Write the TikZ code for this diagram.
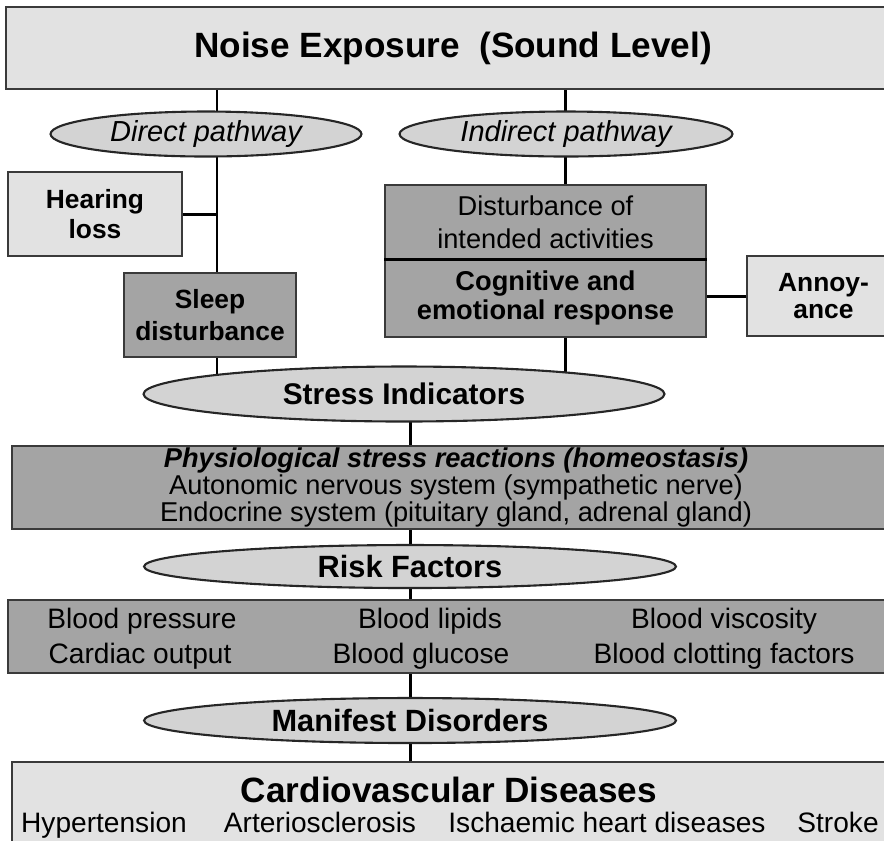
\documentclass[tikz,border=0pt]{standalone}
\usepackage{fontspec}
\setmainfont{Liberation Sans}
\usetikzlibrary{shapes.geometric,backgrounds}
\definecolor{lightbox}{HTML}{E2E2E2}
\definecolor{darkbox}{HTML}{A4A4A4}
\definecolor{ovalfill}{HTML}{D3D3D3}
\definecolor{rim}{HTML}{3A3A3A}
\newcommand{\setfs}[2]{\fontsize{#1}{#2}\selectfont}

\begin{document}
\begin{tikzpicture}[x=0.02cm, y=-0.02cm,
    box/.style={rectangle, draw=rim, line width=0.8pt, inner sep=0pt, align=center},
    light/.style={box, fill=lightbox},
    dark/.style={box, fill=darkbox},
    oval/.style={ellipse, draw=black!85, line width=1.2pt, fill=ovalfill, inner sep=0pt},
    item/.style={anchor=base, inner sep=0pt},
    link/.style={line width=1.7pt}]
  \useasboundingbox (0,0) rectangle (884,840);
  % exposure and the two pathways
  \node[light, minimum width=17.88cm, minimum height=1.64cm, font=\bfseries\setfs{20}{24}] (noise) at (453,48) {Noise Exposure~ (Sound Level)};
  \node[oval, minimum width=6.22cm, minimum height=0.9cm, font=\itshape\setfs{16.5}{20}] (direct) at (206,134) {Direct pathway};
  \node[oval, minimum width=6.66cm, minimum height=0.9cm, font=\itshape\setfs{16.5}{20}] (indirect) at (566,134) {Indirect pathway};
  % direct side
  \node[light, minimum width=3.48cm, minimum height=1.68cm, font=\bfseries\setfs{15}{17}] (hear) at (95,214) {Hearing\\loss};
  \node[dark, minimum width=3.44cm, minimum height=1.68cm, font=\bfseries\setfs{15}{18}] (sleep) at (210,315) {Sleep\\disturbance};
  % indirect side
  \node[dark, minimum width=6.42cm, minimum height=1.48cm, font=\setfs{15.5}{18.5}] (dist) at (545.5,222) {Disturbance of\\intended activities};
  \node[dark, minimum width=6.42cm, minimum height=1.56cm, font=\bfseries\setfs{15.5}{17}] (cogn) at (545.5,298) {Cognitive and\\emotional response};
  \node[light, minimum width=3.06cm, minimum height=1.6cm, font=\bfseries\setfs{15}{15.5}] (annoy) at (823.5,296) {Annoy-\\ance};
  % stress
  \node[oval, minimum width=10.42cm, minimum height=1.1cm, font=\bfseries\setfs{17}{20}] (stress) at (404,394) {Stress Indicators};
  \node[dark, minimum width=17.76cm, minimum height=1.66cm, font=\setfs{15.5}{15.6}] (physio) at (456,487.5)
    {\textbf{\textit{Physiological stress reactions (homeostasis)}}\\Autonomic nervous system (sympathetic nerve)\\Endocrine system (pituitary gland, adrenal gland)};
  % risk factors
  \node[oval, minimum width=10.64cm, minimum height=0.86cm, font=\bfseries\setfs{17.5}{20}] (risk) at (410,566.5) {Risk Factors};
  \node[dark, minimum width=17.84cm, minimum height=1.46cm] (riskbox) at (454,636.5) {};
  \begin{scope}[font=\setfs{16}{18}]
    \node[item] (bp) at (142,628) {Blood pressure};
    \node[item] (bl) at (430,628) {Blood lipids};
    \node[item] (bv) at (724,628) {Blood viscosity};
    \node[item] (co) at (140,663) {Cardiac output};
    \node[item] (bg) at (421,663) {Blood glucose};
    \node[item] (bc) at (724,663) {Blood clotting factors};
  \end{scope}
  % disorders
  \node[oval, minimum width=10.64cm, minimum height=0.9cm, font=\bfseries\setfs{17.5}{20}] (manifest) at (410,720.5) {Manifest Disorders};
  \node[light, minimum width=17.76cm, minimum height=2.76cm] (cvd) at (456,831) {};
  \node[font=\bfseries\setfs{20}{24}] (cvdtitle) at (449,790) {Cardiovascular Diseases};
  \begin{scope}[font=\setfs{16}{18}]
    \node[item] (hyp) at (104,832) {Hypertension};
    \node[item] (art) at (320,832) {Arteriosclerosis};
    \node[item] (isch) at (607,832) {Ischaemic heart diseases};
    \node[item] (stroke) at (838,832) {Stroke};
  \end{scope}
  \draw[line width=1.5pt] (dist.south west) -- (dist.south east);
  % connectors
  \coordinate (ltrunk) at (217,0);
  \coordinate (rtrunk) at (565,0);
  \coordinate (ctrunk) at (410,0);
  \begin{scope}[on background layer]
    \draw[link] (noise.south -| ltrunk) -- (sleep.north -| ltrunk);
    \draw[link] (sleep.south -| ltrunk) -- (stress.center -| ltrunk);
    \draw[link] (noise.south -| rtrunk) -- (dist.north -| rtrunk);
    \draw[link] (cogn.south -| rtrunk) -- (stress.center -| rtrunk);
    \foreach \a/\b in {stress/physio, physio/risk, risk/riskbox, riskbox/manifest, manifest/cvd}
      \draw[link] (\a.center -| ctrunk) -- (\b.center -| ctrunk);
  \end{scope}
  \draw[link] (hear.east) -- (hear.east -| ltrunk);
  \draw[link] (annoy.west) -- (annoy.west -| cogn.east);
\end{tikzpicture}
\end{document}
